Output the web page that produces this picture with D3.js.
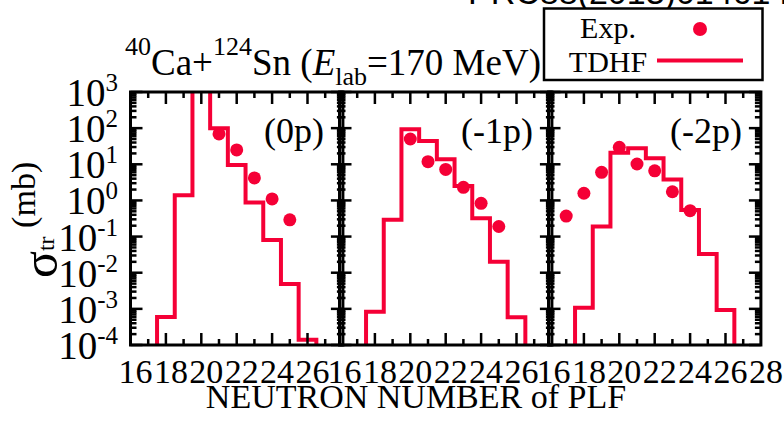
<!DOCTYPE html>
<html><head><meta charset="utf-8">
<script src="https://cdn.jsdelivr.net/npm/d3@7"></script>
<style>body{margin:0;background:#fff}svg{display:block}</style>
</head><body><svg id="c" width="784" height="422"></svg>
<script>
// ---------------- data ----------------
const panelNames = ["(0p)", "(-1p)", "(-2p)"];
const tdhfN  = [17, 18, 19, 20, 21, 22, 23, 24, 25, 26, 27];
const tdhf0p = [1e-5, 6.0e-4, 1.4, 3000, 100, 9.5, 0.87, 0.08, 0.0049, 1.4e-4, 1e-5];
const tdhf1p = [1e-5, 8.3e-4, 0.29, 93, 44, 13.7, 2.5, 0.32, 0.020, 5.9e-4, 1e-5];
const tdhf2p = [1e-5, 1.07e-3, 0.19, 21, 27.6, 14.7, 3.8, 0.54, 0.033, 9.3e-4, 1e-5];
const expN0p = [21, 22, 23, 24, 25];
const exp0p  = [69, 25, 4.2, 1.1, 0.29];
const expN1p = [20, 21, 22, 23, 24, 25];
const exp1p  = [50, 11.8, 7.2, 2.3, 0.83, 0.19];
const expN2p = [17, 18, 19, 20, 21, 22, 23, 24];
const exp2p  = [0.37, 1.58, 6.0, 29.5, 10.2, 6.6, 1.74, 0.52];
const xTickLabels12 = [16, 18, 20, 22, 24, 26];
const xTickLabels3  = [16, 18, 20, 22, 24, 26, 28];
const yExponents = [-4, -3, -2, -1, 0, 1, 2, 3];

// ---------------- layout ----------------
const RED = "#f50036";
const SERIF = "'Liberation Serif','Times New Roman',serif";
const plotTop = 92, plotBottom = 345;
const pw = 212.4, x0s = [130.5, 339.5, 548.5];
const svg = d3.select("#c");

const y = d3.scaleLog().domain([1e-4, 1e3]).range([plotBottom, plotTop]);
const tdhfAll = [tdhf0p, tdhf1p, tdhf2p];
const expNAll = [expN0p, expN1p, expN2p];
const expAll = [exp0p, exp1p, exp2p];

const defs = svg.append("defs");

x0s.forEach((x0, i) => {
  const x = d3.scaleLinear().domain([16, 28]).range([0, pw]);
  const g = svg.append("g").attr("transform", `translate(${x0},0)`);
  defs.append("clipPath").attr("id", "clip" + i)
    .append("rect").attr("x", 0).attr("y", plotTop).attr("width", pw).attr("height", plotBottom - plotTop);

  const pts = [];
  tdhfN.forEach((n, k) => { pts.push([n - 0.5, tdhfAll[i][k]]); pts.push([n + 0.5, tdhfAll[i][k]]); });
  const line = d3.line().x(d => x(d[0])).y(d => y(d[1]));
  g.append("path").attr("clip-path", `url(#clip${i})`)
    .attr("d", line(pts)).attr("fill", "none").attr("stroke", RED)
    .attr("stroke-width", 4).attr("stroke-linejoin", "miter");

  g.append("g").attr("clip-path", `url(#clip${i})`).selectAll("circle")
    .data(expNAll[i].map((n, k) => [n, expAll[i][k]]))
    .join("circle").attr("cx", d => x(d[0])).attr("cy", d => y(d[1]))
    .attr("r", 6.5).attr("fill", RED);

  const tk = g.append("g").attr("stroke", "#000").attr("stroke-width", 2.5);
  d3.range(17, 28).forEach(n => {
    const len = n % 2 === 0 ? 12 : 6;
    tk.append("line").attr("x1", x(n)).attr("x2", x(n)).attr("y1", plotBottom).attr("y2", plotBottom - len);
    tk.append("line").attr("x1", x(n)).attr("x2", x(n)).attr("y1", plotTop).attr("y2", plotTop + len);
  });
  yExponents.forEach(e => {
    for (let m = 1; m <= 9; m++) {
      if (e === 3 && m > 1) continue;
      const v = m * Math.pow(10, e);
      const len = m === 1 ? 12 : 6;
      tk.append("line").attr("x1", 0).attr("x2", len).attr("y1", y(v)).attr("y2", y(v));
      tk.append("line").attr("x1", pw).attr("x2", pw - len).attr("y1", y(v)).attr("y2", y(v));
    }
  });
  g.append("rect").attr("x", 0).attr("y", plotTop).attr("width", pw).attr("height", plotBottom - plotTop)
    .attr("fill", "none").attr("stroke", "#000").attr("stroke-width", 3);

  const labs = i === 2 ? xTickLabels3 : xTickLabels12;
  g.selectAll("text.xt").data(labs).join("text").attr("class", "xt")
    .attr("x", d => x(d) + 5).attr("y", 383).attr("text-anchor", "middle")
    .style("font-family", SERIF).style("font-size", "34px").text(d => d);

  g.append("text").attr("x", pw - 19).attr("y", 143).attr("text-anchor", "end")
    .style("font-family", SERIF).style("font-size", "36px").text(panelNames[i]);
});

yExponents.forEach(e => {
  const t = svg.append("text").attr("x", 118).attr("y", y(Math.pow(10, e)) + 14)
    .attr("text-anchor", "end").style("font-family", SERIF).style("font-size", "39px");
  t.append("tspan").text("10");
  t.append("tspan").style("font-size", "25px").attr("dy", -15).text(e);
});

// y axis title: one rotated text, sigma + subscript + unit
const yt = svg.append("text").attr("transform", "translate(57,278) rotate(-90)")
  .style("font-family", SERIF).style("font-size", "34px");
yt.append("tspan").style("font-size", "50px").text("σ");
yt.append("tspan").style("font-size", "24px").attr("dy", -3).text("tr");
yt.append("tspan").attr("dy", -19).text(" (mb)");

svg.append("text").attr("x", 416).attr("y", 408).attr("text-anchor", "middle")
  .style("font-family", SERIF).style("font-size", "34px").text("NEUTRON NUMBER of PLF");

const tt = svg.append("text").attr("x", 125).attr("y", 75).style("font-family", SERIF).style("font-size", "37px");
tt.append("tspan").style("font-size", "26px").attr("dy", -20).text("40");
tt.append("tspan").attr("dy", 20).text("Ca+");
tt.append("tspan").style("font-size", "26px").attr("dy", -20).text("124");
tt.append("tspan").attr("dy", 20).text("Sn (");
tt.append("tspan").attr("font-style", "italic").text("E");
tt.append("tspan").style("font-size", "26px").attr("dy", 10).text("lab");
tt.append("tspan").attr("dy", -10).text("=170 MeV)");

svg.append("text").attr("x", 468).attr("y", 4).style("font-family", "'Liberation Sans',Arial,sans-serif")
  .style("font-size", "34px").text("PRC88(2013)014614");

svg.append("rect").attr("x", 544).attr("y", 8.5).attr("width", 218.5).attr("height", 71.5)
  .attr("fill", "#fff").attr("stroke", "#000").attr("stroke-width", 2.5);
svg.append("text").attr("x", 608).attr("y", 38).attr("text-anchor", "middle")
  .style("font-family", SERIF).style("font-size", "30px").text("Exp.");
svg.append("text").attr("x", 608).attr("y", 72).attr("text-anchor", "middle")
  .style("font-family", SERIF).style("font-size", "30px").text("TDHF");
svg.append("circle").attr("cx", 700).attr("cy", 29).attr("r", 7).attr("fill", RED);
svg.append("line").attr("x1", 657).attr("x2", 743).attr("y1", 60.5).attr("y2", 60.5)
  .attr("stroke", RED).attr("stroke-width", 4);
</script></body></html>
